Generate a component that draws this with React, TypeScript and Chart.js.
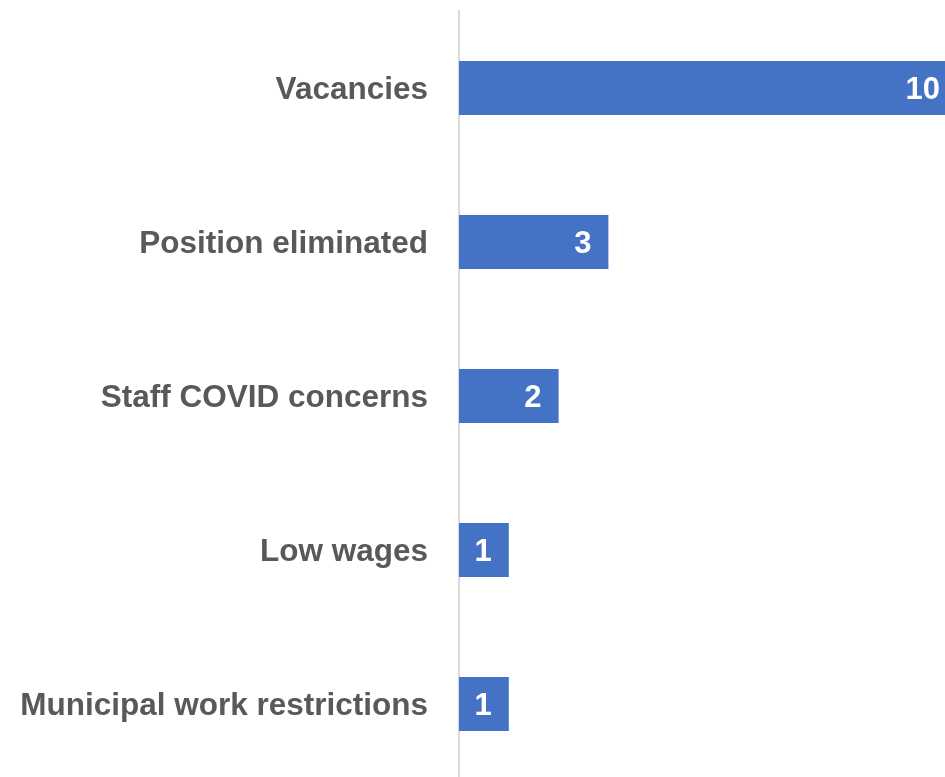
import React, { useEffect, useRef } from "react";
import { Chart, registerables } from "chart.js";

Chart.register(...registerables);

const categories = [
  "Vacancies",
  "Position eliminated",
  "Staff COVID concerns",
  "Low wages",
  "Municipal work restrictions",
];
const values = [10, 3, 2, 1, 1];
const xMax = 10;

const FONT = '"Liberation Sans", Arial, sans-serif';

const valueLabels = {
  id: "valueLabels",
  afterDatasetsDraw(chart: any) {
    const ctx = chart.ctx;
    const meta = chart.getDatasetMeta(0);
    ctx.save();
    ctx.fillStyle = "#ffffff";
    ctx.font = `bold 31px ${FONT}`;
    ctx.textAlign = "right";
    ctx.textBaseline = "middle";
    meta.data.forEach((bar: any, i: number) => {
      ctx.fillText(String(values[i]), bar.x - 17, bar.y + 2);
    });
    ctx.restore();
  },
};

export default function App() {
  const ref = useRef<HTMLCanvasElement>(null);
  useEffect(() => {
    if (!ref.current) return;
    const chart = new Chart(ref.current, {
      type: "bar",
      data: {
        labels: categories,
        datasets: [
          {
            data: values,
            backgroundColor: "#4472C4",
            borderWidth: 0,
            barPercentage: 0.35,
            categoryPercentage: 1,
          },
        ],
      },
      options: {
        indexAxis: "y",
        animation: false,
        responsive: true,
        maintainAspectRatio: false,
        layout: { padding: { top: 11, right: 3, bottom: 9, left: 0 } },
        plugins: { legend: { display: false }, tooltip: { enabled: false } },
        scales: {
          x: { display: false, min: 0, max: xMax },
          y: {
            position: "left",
            grid: { display: false, drawTicks: false },
            border: { display: true, color: "#D9D9D9", width: 2 },
            ticks: {
              color: "#595959",
              padding: 31,
              labelOffset: 2,
              font: { family: FONT, size: 31.5, weight: "bold" },
            },
            afterFit(scale: any) {
              scale.width = 459;
              scale.paddingTop = 0;
              scale.paddingBottom = 0;
            },
          },
        },
      },
      plugins: [valueLabels],
    });
    return () => chart.destroy();
  }, []);
  return (
    <div
      style={{
        position: "fixed",
        left: 0,
        top: 0,
        width: 945,
        height: 777,
        overflow: "hidden",
        background: "#ffffff",
      }}
    >
      <div style={{ position: "relative", width: 960, height: 790 }}>
        <canvas ref={ref} />
      </div>
    </div>
  );
}
